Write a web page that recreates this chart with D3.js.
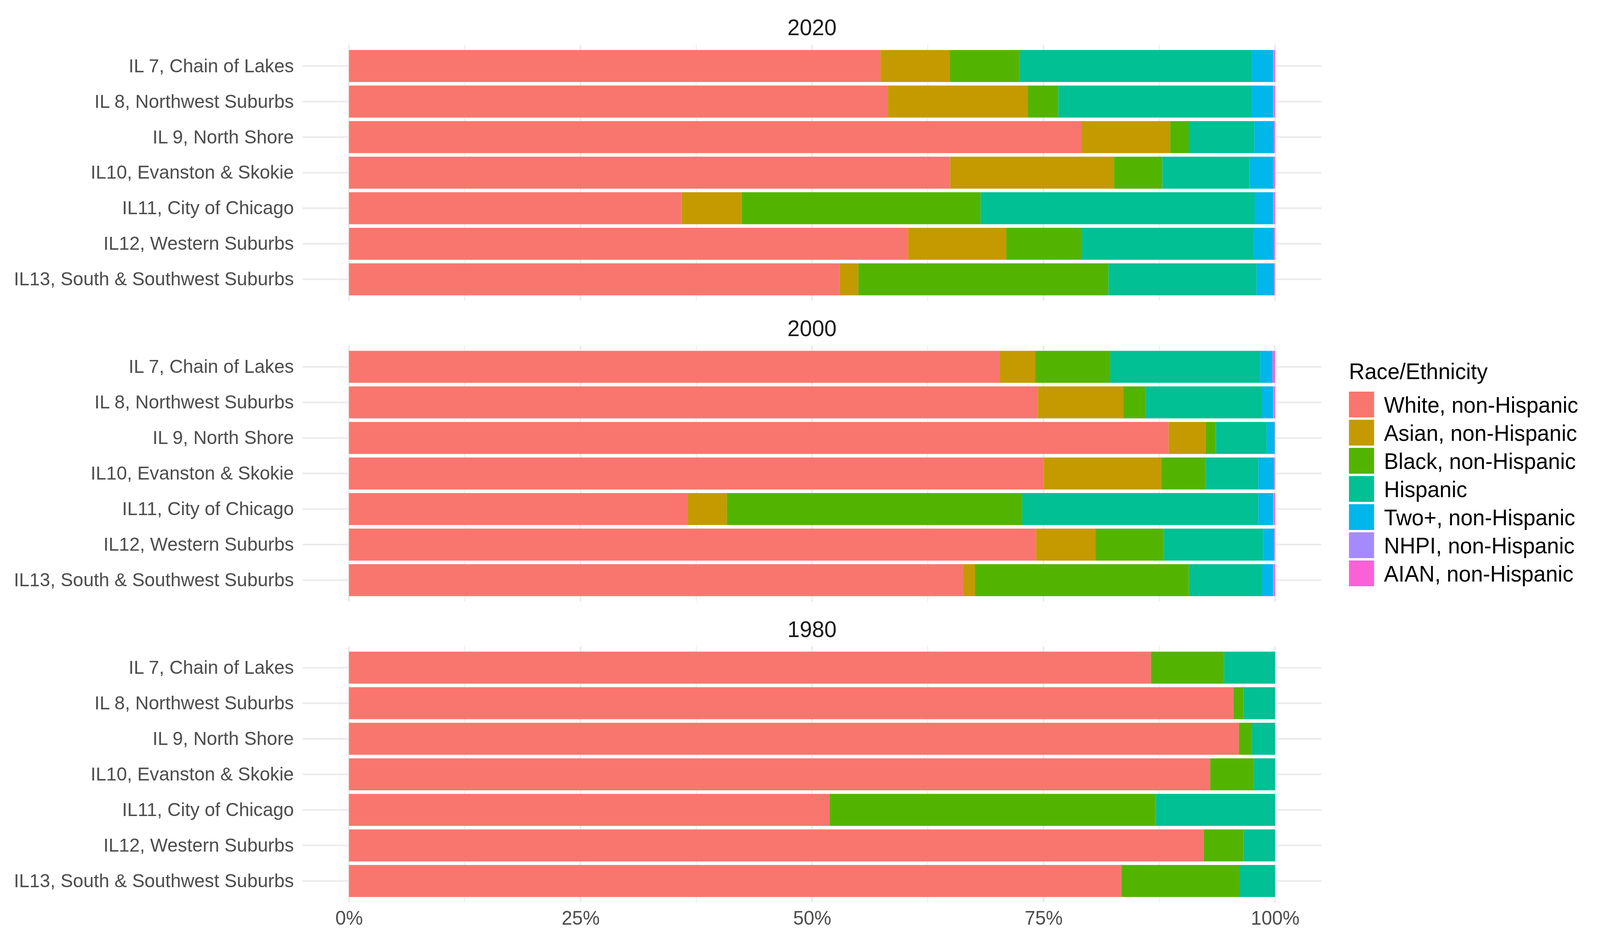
<!DOCTYPE html>
<html>
<head>
<meta charset="utf-8">
<script src="https://cdn.jsdelivr.net/npm/d3@7"></script>
<style>
  body { margin: 0; background: #fff; overflow: hidden; }
  svg { display: block; font-family: "Liberation Sans", Arial, Helvetica, sans-serif; }
</style>
</head>
<body>
<svg></svg>
<script>
// data (percent of district population)
const groups = ['White, non-Hispanic', 'Asian, non-Hispanic', 'Black, non-Hispanic', 'Hispanic',
  'Two+, non-Hispanic', 'NHPI, non-Hispanic', 'AIAN, non-Hispanic'];
const colors = ['#F8766D', '#C49A00', '#53B400', '#00C094', '#00B6EB', '#A58AFF', '#FB61D7'];
const districts = ['IL 7, Chain of Lakes', 'IL 8, Northwest Suburbs', 'IL 9, North Shore',
  'IL10, Evanston & Skokie', 'IL11, City of Chicago', 'IL12, Western Suburbs',
  'IL13, South & Southwest Suburbs'];
const years = ['2020', '2000', '1980'];

// one row per district, columns follow groups
const share2020 = [
  [57.4, 7.5, 7.5, 25.1, 2.3, 0.04, 0.16],
  [58.2, 15.1, 3.3, 20.9, 2.3, 0.04, 0.16],
  [79.1, 9.6, 2.0, 7.1, 2.1, 0.03, 0.1],
  [64.9, 17.7, 5.2, 9.4, 2.6, 0.03, 0.14],
  [35.9, 6.5, 25.8, 29.6, 2.0, 0.04, 0.16],
  [60.4, 10.6, 8.1, 18.6, 2.2, 0.03, 0.1],
  [53.0, 2.0, 27.0, 16.0, 1.9, 0.03, 0.07]
];
const share2000 = [
  [70.3, 3.8, 8.1, 16.2, 1.3, 0.05, 0.25],
  [74.4, 9.2, 2.4, 12.6, 1.2, 0.04, 0.16],
  [88.5, 4.0, 1.1, 5.5, 0.85, 0.02, 0.03],
  [75.0, 12.7, 4.8, 5.7, 1.7, 0.03, 0.07],
  [36.6, 4.2, 31.9, 25.5, 1.6, 0.05, 0.15],
  [74.2, 6.4, 7.4, 10.7, 1.2, 0.03, 0.07],
  [66.3, 1.3, 23.1, 7.9, 1.2, 0.04, 0.16]
];
const share1980 = [
  [86.6, 0, 7.9, 5.5, 0, 0, 0],
  [95.5, 0, 1.1, 3.4, 0, 0, 0],
  [96.1, 0, 1.4, 2.5, 0, 0, 0],
  [93.0, 0, 4.7, 2.3, 0, 0, 0],
  [51.9, 0, 35.2, 12.9, 0, 0, 0],
  [92.3, 0, 4.3, 3.4, 0, 0, 0],
  [83.4, 0, 12.8, 3.8, 0, 0, 0]
];
const sharesByYear = [share2020, share2000, share1980];
const xTicks = [0, 0.25, 0.5, 0.75, 1];
const xMinor = [0.125, 0.375, 0.625, 0.875];

// the drawing is laid out on a 4200 x 2400 canvas and stretched to the viewport
const svg = d3.select('svg')
  .attr('width', window.innerWidth || 4200)
  .attr('height', window.innerHeight || 2400)
  .attr('viewBox', '0 0 4200 2400')
  .attr('preserveAspectRatio', 'none');
svg.append('rect').attr('width', 4200).attr('height', 2400).attr('fill', '#fff');

const panelLeft = 794.5;
const panelRight = 3468.5;
const panelHeight = 655;
const panelTops = [114.3, 884, 1653.7];
const grid = '#EBEBEB';

const x = d3.scaleLinear().domain([0, 1]).range([916, 3347]);
const color = d3.scaleOrdinal().domain(groups).range(colors);

const stack = d3.stack()
  .keys(groups)
  .offset(d3.stackOffsetExpand);

years.forEach(function(year, i) {
  const top = panelTops[i];
  const rows = sharesByYear[i].map(function(vals, r) {
    const row = { district: districts[r] };
    groups.forEach(function(g, k) { row[g] = vals[k]; });
    return row;
  });

  const y = d3.scaleBand()
    .domain(districts)
    .range([top, top + panelHeight])
    .paddingInner(0.1)
    .paddingOuter(0.15);

  const panel = svg.append('g');

  // grid
  panel.append('g').selectAll('line.minor')
    .data(xMinor).enter().append('line')
    .attr('x1', d => x(d)).attr('x2', d => x(d))
    .attr('y1', top).attr('y2', top + panelHeight)
    .attr('stroke', grid).attr('stroke-width', 2.2);

  panel.append('g').selectAll('line.major')
    .data(xTicks).enter().append('line')
    .attr('x1', d => x(d)).attr('x2', d => x(d))
    .attr('y1', top).attr('y2', top + panelHeight)
    .attr('stroke', grid).attr('stroke-width', 4.3);

  panel.append('g').selectAll('line.ygrid')
    .data(districts).enter().append('line')
    .attr('x1', panelLeft).attr('x2', panelRight)
    .attr('y1', d => y(d) + y.bandwidth() / 2)
    .attr('y2', d => y(d) + y.bandwidth() / 2)
    .attr('stroke', grid).attr('stroke-width', 4.3);

  // stacked bars
  const series = stack(rows);
  panel.append('g').selectAll('g')
    .data(series).enter().append('g')
    .attr('fill', d => color(d.key))
    .selectAll('rect')
    .data(d => d).enter().append('rect')
    .attr('x', d => x(d[0]))
    .attr('width', d => Math.max(0, x(d[1]) - x(d[0])))
    .attr('y', d => y(d.data.district))
    .attr('height', y.bandwidth());

  // district labels
  const yAxis = panel.append('g')
    .attr('transform', `translate(${panelLeft}, 0)`)
    .call(d3.axisLeft(y).tickSize(0).tickPadding(23));
  yAxis.select('.domain').remove();
  yAxis.selectAll('text')
    .attr('font-size', 49)
    .attr('fill', '#4D4D4D')
    .attr('font-family', '"Liberation Sans", Arial, Helvetica, sans-serif');

  // facet title
  svg.append('text')
    .attr('x', (panelLeft + panelRight) / 2)
    .attr('y', top - 24)
    .attr('text-anchor', 'middle')
    .attr('font-size', 58)
    .attr('fill', '#1A1A1A')
    .text(year);
});

// x axis under the last panel
const xAxis = svg.append('g')
  .attr('transform', `translate(0, ${panelTops[2] + panelHeight})`)
  .call(d3.axisBottom(x).tickValues(xTicks).tickFormat(d3.format('.0%')).tickSize(0).tickPadding(22));
xAxis.select('.domain').remove();
xAxis.selectAll('text')
  .attr('font-size', 50)
  .attr('fill', '#4D4D4D')
  .attr('font-family', '"Liberation Sans", Arial, Helvetica, sans-serif');

// legend
const legend = svg.append('g').attr('transform', 'translate(3541, 0)');
legend.append('text')
  .attr('x', 0)
  .attr('y', 970)
  .attr('font-size', 57)
  .attr('fill', '#000')
  .text('Race/Ethnicity');

const keys = legend.selectAll('g.key')
  .data(groups).enter().append('g')
  .attr('transform', (d, i) => `translate(0, ${1002 + i * 72})`);
keys.append('rect')
  .attr('width', 66).attr('height', 66)
  .attr('fill', d => color(d));
keys.append('text')
  .attr('x', 92)
  .attr('y', 33)
  .attr('dy', '0.36em')
  .attr('font-size', 57)
  .attr('fill', '#000')
  .text(d => d);
</script>
</body>
</html>
